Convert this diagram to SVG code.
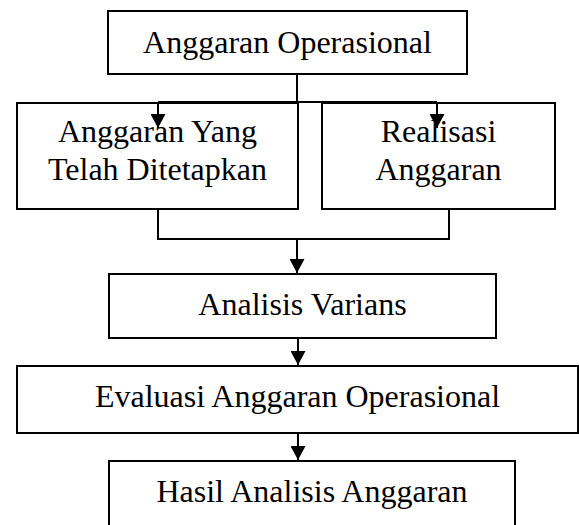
<svg xmlns="http://www.w3.org/2000/svg" width="579" height="525" viewBox="0 0 579 525">
  <style>
    .box { fill: #ffffff; stroke: #000000; stroke-width: 2; }
    .lbl { font-family: "Liberation Serif", "Times New Roman", serif; font-size: 32px; fill: #000000; text-anchor: middle; }
    .conn { fill: none; stroke: #000000; stroke-width: 2; }
  </style>
  <defs>
    <marker id="arrow" markerUnits="userSpaceOnUse" markerWidth="15" markerHeight="15" refX="14" refY="7.5" orient="auto">
      <path d="M0,0 L14,7.5 L0,15 Z" fill="#000000"/>
    </marker>
  </defs>
  <rect width="579" height="525" fill="#ffffff"/>

  <g id="node-anggaran-operasional">
    <rect class="box" x="108" y="11" width="359" height="63"/>
    <text class="lbl" x="287.5" y="53">Anggaran Operasional</text>
  </g>
  <g id="node-anggaran-ditetapkan">
    <rect class="box" x="17" y="103" width="281" height="106"/>
    <text class="lbl" x="157.5" y="142">Anggaran Yang</text>
    <text class="lbl" x="157.5" y="180">Telah Ditetapkan</text>
  </g>
  <g id="node-realisasi">
    <rect class="box" x="322" y="103" width="233" height="106"/>
    <text class="lbl" x="438.5" y="142">Realisasi</text>
    <text class="lbl" x="438.5" y="180">Anggaran</text>
  </g>
  <g id="node-analisis-varians">
    <rect class="box" x="109" y="274" width="387" height="64"/>
    <text class="lbl" x="302.5" y="315">Analisis Varians</text>
  </g>
  <g id="node-evaluasi">
    <rect class="box" x="17" y="366" width="561" height="67"/>
    <text class="lbl" x="297.5" y="407">Evaluasi Anggaran Operasional</text>
  </g>
  <g id="node-hasil">
    <rect class="box" x="109" y="461" width="406" height="80"/>
    <text class="lbl" x="312" y="502">Hasil Analisis Anggaran</text>
  </g>

  <g id="connectors">
    <polyline class="conn" points="297,74 297,102"/>
    <polyline class="conn" points="158,102 437,102"/>
    <line class="conn" x1="158" y1="102" x2="158" y2="128" marker-end="url(#arrow)"/>
    <line class="conn" x1="437" y1="102" x2="437" y2="128" marker-end="url(#arrow)"/>
    <polyline class="conn" points="158,209 158,239 449,239 449,209"/>
    <line class="conn" x1="297" y1="239" x2="297" y2="273" marker-end="url(#arrow)"/>
    <line class="conn" x1="298" y1="338" x2="298" y2="365" marker-end="url(#arrow)"/>
    <line class="conn" x1="298" y1="433" x2="298" y2="460" marker-end="url(#arrow)"/>
  </g>
</svg>
